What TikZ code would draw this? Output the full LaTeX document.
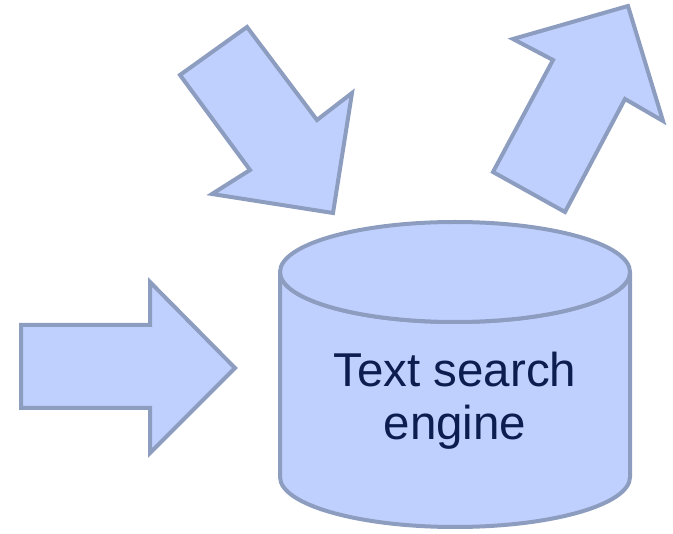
\documentclass[tikz,border=0pt]{standalone}
\usepackage{fontspec}
\setmainfont{Liberation Sans}
\definecolor{drumfill}{RGB}{192,208,254}
\definecolor{drumline}{RGB}{141,157,192}
\definecolor{drumtext}{RGB}{11,30,79}
\begin{document}
\begin{tikzpicture}[x=1pt, y=-1pt,
    blockarrow/.style={fill=drumfill, draw=drumline, line width=4pt},
    drum/.style={fill=drumfill, draw=drumline, line width=4pt}]
\useasboundingbox (0,0) rectangle (673,534);

% arrow coming in from the left
\draw[blockarrow](21,325)--(150,325)--(150,282)--(235,368)--(150,453)--(150,408)--(21,408)--cycle;

% arrow coming down from the top
\draw[blockarrow](180,75)--(247,27)--(317,120)--(352,93)--(333,213)--(212,194)--(250,170)--cycle;

% arrow going out to the top right
\draw[blockarrow](493,172)--(553,60)--(513,39)--(628,6)--(663,121)--(625,99)--(565,212)--cycle;

% the engine
\draw[drum](280,272)--(280,477) arc[start angle=180, end angle=0, x radius=175, y radius=50]
    --(630,272) arc[start angle=0, end angle=180, x radius=175, y radius=50]--cycle;
\draw[drum](455,272) ellipse[x radius=175, y radius=50];
\node[text=drumtext, align=center, font=\fontsize{47.5}{53}\selectfont] (engine) at (455,401) {Text search\\engine};

\end{tikzpicture}
\end{document}
